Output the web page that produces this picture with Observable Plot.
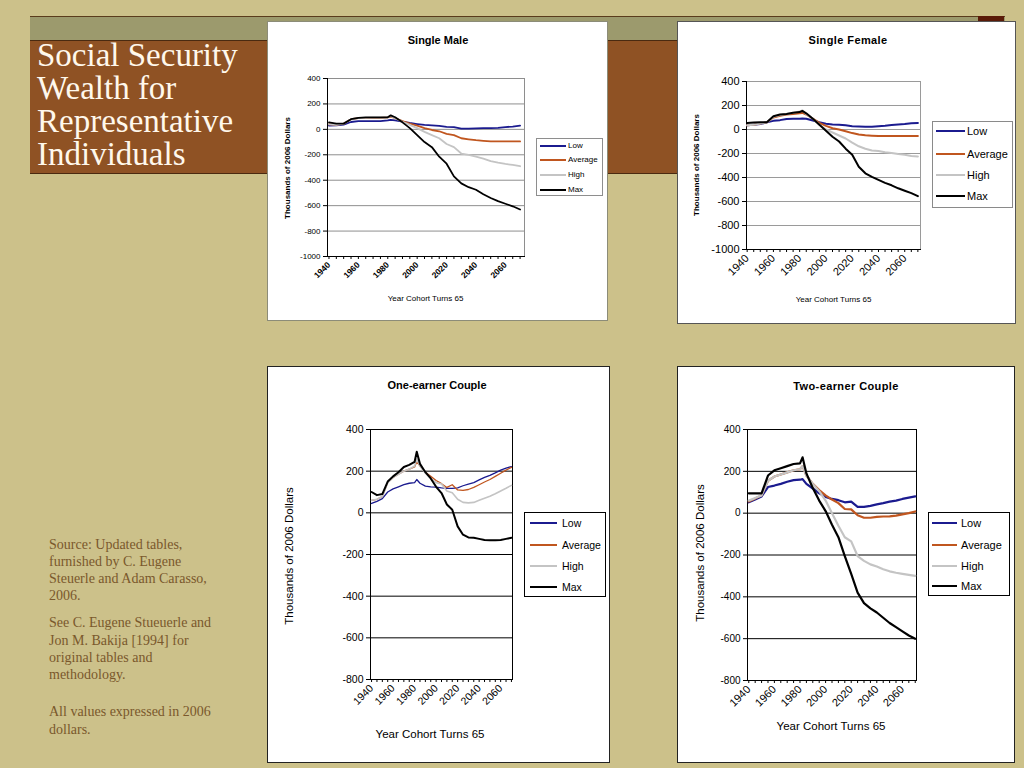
<!DOCTYPE html>
<html>
<head>
<meta charset="utf-8">
<script src="https://cdn.jsdelivr.net/npm/d3@7"></script>
<script src="https://cdn.jsdelivr.net/npm/@observablehq/plot@0.6"></script>
<style>
html,body{margin:0;padding:0;}
body{width:1024px;height:768px;background:#CCC18A;position:relative;overflow:hidden;font-family:"Liberation Sans",Arial,sans-serif;}
.abs{position:absolute;}
.c{position:absolute;white-space:nowrap;line-height:1;transform:translate(-50%,-50%);}
.serif{font-family:"Liberation Serif","Times New Roman",serif;}
.ttl{position:absolute;left:37px;height:33px;font-size:33px;line-height:33px;color:#FFF8EC;white-space:nowrap;}
.src{position:absolute;left:49px;font-size:14px;line-height:17.3px;color:#7A582C;}
</style>
</head>
<body>
<!-- slide decoration -->
<div class="abs" style="left:30px;top:16px;width:975px;height:24px;background:#9C9A6D;border-top:1px solid #5A3C1C;"></div>
<div class="abs" style="left:978px;top:16px;width:26px;height:7px;background:#5A1B08;"></div>
<div class="abs" style="left:30px;top:40px;width:975px;height:132px;background:#8F5224;border-top:1px solid #4A2A10;border-bottom:1px solid #4A2A10;"></div>
<div class="ttl serif" style="top:39.4px;">Social Security</div>
<div class="ttl serif" style="top:72.4px;">Wealth for</div>
<div class="ttl serif" style="top:105.4px;">Representative</div>
<div class="ttl serif" style="top:138.4px;">Individuals</div>

<div class="src serif" style="top:535.6px;">Source: Updated tables,<br>furnished by C. Eugene<br>Steuerle and Adam Carasso,<br>2006.</div>
<div class="src serif" style="top:614.3px;">See C. Eugene Stueuerle and<br>Jon M. Bakija [1994] for<br>original tables and<br>methodology.</div>
<div class="src serif" style="top:703.3px;">All values expressed in 2006<br>dollars.</div>

<script>
// ---------- data ----------
const years = [1940,1945,1950,1955,1960,1965,1970,1975,1980,1982,1985,1990,1995,2000,2005,2010,2015,2020,2025,2030,2035,2040,2045,2050,2055,2060,2065,2070];
const seriesNames = ["Low","Average","High","Max"];
const seriesColors = ["#1B1B8F","#C0561F","#C4C4C4","#000000"];

const maleLow     = [30,32,38,58,65,65,65,65,70,75,70,60,50,42,35,32,28,20,18,5,5,8,10,10,12,18,22,30];
const maleAverage = [40,35,45,80,88,90,90,90,95,100,88,65,45,30,10,-5,-15,-35,-45,-70,-78,-85,-90,-95,-95,-95,-95,-95];
const maleHigh    = [40,35,45,80,88,90,92,92,95,105,88,60,35,10,-20,-45,-70,-115,-140,-190,-200,-215,-230,-250,-262,-272,-280,-290];
const maleMax     = [55,45,45,80,90,95,95,95,95,110,95,55,10,-45,-100,-140,-215,-270,-370,-425,-455,-475,-510,-540,-565,-585,-605,-630];

const femaleLow     = [35,40,45,60,72,78,88,90,90,92,90,75,60,48,42,40,35,28,25,22,22,28,32,38,42,45,52,55];
const femaleAverage = [35,40,50,60,100,115,125,130,135,138,125,90,55,30,10,0,-15,-30,-42,-48,-52,-55,-55,-55,-55,-55,-55,-55];
const femaleHigh    = [35,40,50,60,105,120,130,140,150,160,130,90,40,0,-25,-50,-75,-110,-140,-160,-175,-180,-190,-195,-205,-210,-220,-225];
const femaleMax     = [55,58,60,60,110,125,130,140,145,155,135,90,40,-10,-60,-100,-160,-210,-310,-365,-395,-420,-445,-465,-490,-510,-530,-555];

const oneLow     = [45,55,68,100,115,125,135,142,145,160,142,128,125,123,120,118,117,120,130,138,145,158,170,180,192,205,215,222];
const oneAverage = [60,65,78,145,170,185,200,210,220,245,225,195,175,155,140,122,135,110,108,112,122,135,148,160,175,190,205,218];
const oneHigh    = [60,65,78,145,170,185,200,210,225,258,225,190,165,145,138,105,96,65,50,48,50,60,70,80,92,105,118,132];
const oneMax     = [100,85,90,150,175,195,220,230,245,293,235,195,165,125,95,40,15,-65,-105,-118,-120,-125,-130,-132,-132,-130,-125,-120];

const twoLow     = [52,65,80,125,132,140,150,158,160,163,140,118,95,78,68,62,52,55,30,30,35,42,48,55,60,68,74,80];
const twoAverage = [56,70,85,155,175,185,195,205,210,225,180,140,110,85,65,48,20,18,-10,-22,-22,-18,-16,-15,-12,-6,0,8];
const twoHigh    = [60,72,85,155,175,185,195,205,210,225,180,140,105,60,0,-60,-115,-135,-205,-228,-245,-255,-268,-278,-285,-290,-295,-300];
const twoMax     = [95,95,95,180,205,215,225,235,238,267,190,120,60,10,-55,-115,-205,-290,-380,-430,-455,-475,-500,-525,-545,-565,-585,-600];

const xTickYears = [1940,1960,1980,2000,2020,2040,2060];
const yTicksSingle = [400,200,0,-200,-400,-600,-800,-1000];
const yTicksCouple = [400,200,0,-200,-400,-600,-800];
const chartTitles = ["Single Male","Single Female","One-earner Couple","Two-earner Couple"];
const yAxisLabel = "Thousands of 2006 Dollars";
const xAxisLabel = "Year Cohort Turns 65";

// ---------- layout ----------
const layouts = [
  {box:[268,22,339,298], outline:"#8C8C78", frame:[327,78,524,256], xDomain:[1939,2073], yDomain:[-1000,400], yTicks:yTicksSingle,
   grid:"#8E8E8E", frameColor:"#8E8E8E", lw:[1.8,1.8,1.8,1.8], yFont:8, xFont:8.5, xBold:true,
   title:[438,39.5,11,0], ylab:[288,168,8,true], xlab:[425.5,299,8],
   legend:{box:[536,138,67,58], border:"#8E8E8E", rows:[146,160,175,190], line:[540,566], text:568, font:8, lw:2}},
  {box:[678,22,337,301], outline:"#555", frame:[746,81,920,249], xDomain:[1939.5,2072], yDomain:[-1000,400], yTicks:yTicksSingle,
   grid:"#9A9A9A", frameColor:"#9A9A9A", lw:[2,2,2,2], yFont:11, xFont:11, xBold:false,
   title:[848,39.5,11,0.4], ylab:[697,165,8,true], xlab:[833.5,300,8],
   legend:{box:[932,121,81,87], border:"#8A8A8A", rows:[131,154,175,196], line:[936,965], text:967, font:11, lw:2}},
  {box:[268,367,341,395], outline:"#222", frame:[370,429,512,679], xDomain:[1939,2071], yDomain:[-800,400], yTicks:yTicksCouple,
   grid:"#000", frameColor:"#000", lw:[1.3,1.3,1.6,2], yFont:10.5, xFont:10.5, xBold:false,
   title:[437,384.5,11,0], ylab:[290,556,11.5,false], xlab:[430,735,11.5],
   legend:{box:[524,512,82,85], border:"#000", rows:[523,545,566,587], line:[530,557], text:562, font:10.5, lw:1.3}},
  {box:[678,367,336,395], outline:"#222", frame:[747,429,916,680], xDomain:[1939,2071], yDomain:[-800,400], yTicks:yTicksCouple,
   grid:"#000", frameColor:"#000", lw:[2.2,2.2,2.2,2.2], yFont:10, xFont:11, xBold:false,
   title:[846,386,11,0.4], ylab:[701,553,11.5,false], xlab:[831,727,11.5],
   legend:{box:[928,512,82,84], border:"#000", rows:[523,545,566,586], line:[932,957], text:961, font:11, lw:2.5}}
];
const chartData = [
  [maleLow,maleAverage,maleHigh,maleMax],
  [femaleLow,femaleAverage,femaleHigh,femaleMax],
  [oneLow,oneAverage,oneHigh,oneMax],
  [twoLow,twoAverage,twoHigh,twoMax]
];

function addText(txt, x, y, size, opts = {}) {
  const d = document.createElement("div");
  d.className = "c";
  d.textContent = txt;
  d.style.left = x + "px";
  d.style.top = y + "px";
  d.style.fontSize = size + "px";
  if (opts.bold) d.style.fontWeight = "bold";
  if (opts.ls) d.style.letterSpacing = opts.ls + "px";
  if (opts.rotate) d.style.transform = "translate(-50%,-50%) rotate(-90deg)";
  d.style.color = "#000";
  document.body.appendChild(d);
  return d;
}

function drawChart(L, data, title) {
  const [bx,by,bw,bh] = L.box;
  const [fx0,fy0,fx1,fy1] = L.frame;
  const box = document.createElement("div");
  box.className = "abs";
  Object.assign(box.style, {left:bx+"px", top:by+"px", width:bw+"px", height:bh+"px", background:"#fff", outline:"1px solid "+L.outline});
  document.body.appendChild(box);

  const minor = d3.range(1940, 2071, 5);
  const marks = [
    Plot.gridY(L.yTicks, {stroke:L.grid, strokeOpacity:1}),
    Plot.frame({stroke:L.frameColor}),
    Plot.frame({anchor:"left", stroke:"#000"}),
    Plot.frame({anchor:"bottom", stroke:"#000"}),
    Plot.axisY(L.yTicks, {tickSize:4, tickPadding:3, tickFormat:d=>String(d), fontSize:L.yFont, label:null}),
    Plot.axisX(minor, {tickSize:3, tickFormat:()=>"", label:null}),
    Plot.axisX(xTickYears, {tickSize:0, tickRotate:-45, tickPadding:7, tickFormat:d=>String(d), fontSize:L.xFont, fontWeight:L.xBold?"bold":"normal", label:null})
  ];
  seriesNames.forEach((s,i) => {
    const rows = years.map((yr,j) => ({series:s, year:yr, value:data[i][j]}));
    marks.push(Plot.line(rows, {x:"year", y:"value", stroke:seriesColors[i], strokeWidth:L.lw[i]}));
  });
  const svg = Plot.plot({
    width:bw, height:bh,
    marginLeft:fx0-bx, marginRight:bx+bw-fx1, marginTop:fy0-by, marginBottom:by+bh-fy1,
    x:{domain:L.xDomain, label:null},
    y:{domain:L.yDomain, label:null},
    style:{background:"transparent", fontFamily:"'Liberation Sans', Arial, sans-serif", color:"#000", overflow:"visible"},
    marks
  });
  svg.style.position = "absolute";
  svg.style.left = bx + "px";
  svg.style.top = by + "px";
  document.body.appendChild(svg);

  addText(title, L.title[0], L.title[1], L.title[2], {bold:true, ls:L.title[3]});
  addText(yAxisLabel, L.ylab[0], L.ylab[1], L.ylab[2], {rotate:true, bold:L.ylab[3]});
  addText(xAxisLabel, L.xlab[0], L.xlab[1], L.xlab[2]);

  const lg = L.legend;
  const lb = document.createElement("div");
  lb.className = "abs";
  Object.assign(lb.style, {left:lg.box[0]+"px", top:lg.box[1]+"px", width:lg.box[2]+"px", height:lg.box[3]+"px", border:"1px solid "+lg.border, background:"#fff", boxSizing:"border-box"});
  document.body.appendChild(lb);
  seriesNames.forEach((s,i) => {
    const ln = document.createElement("div");
    ln.className = "abs";
    Object.assign(ln.style, {left:lg.line[0]+"px", top:(lg.rows[i]-lg.lw/2)+"px", width:(lg.line[1]-lg.line[0])+"px", height:lg.lw+"px", background:seriesColors[i]});
    document.body.appendChild(ln);
    const t = document.createElement("div");
    t.className = "abs";
    t.textContent = s;
    Object.assign(t.style, {left:lg.text+"px", top:lg.rows[i]+"px", fontSize:lg.font+"px", lineHeight:"1", transform:"translateY(-50%)", whiteSpace:"nowrap", color:"#000"});
    document.body.appendChild(t);
  });
}

layouts.forEach((L,i) => drawChart(L, chartData[i], chartTitles[i]));
</script>
</body>
</html>
